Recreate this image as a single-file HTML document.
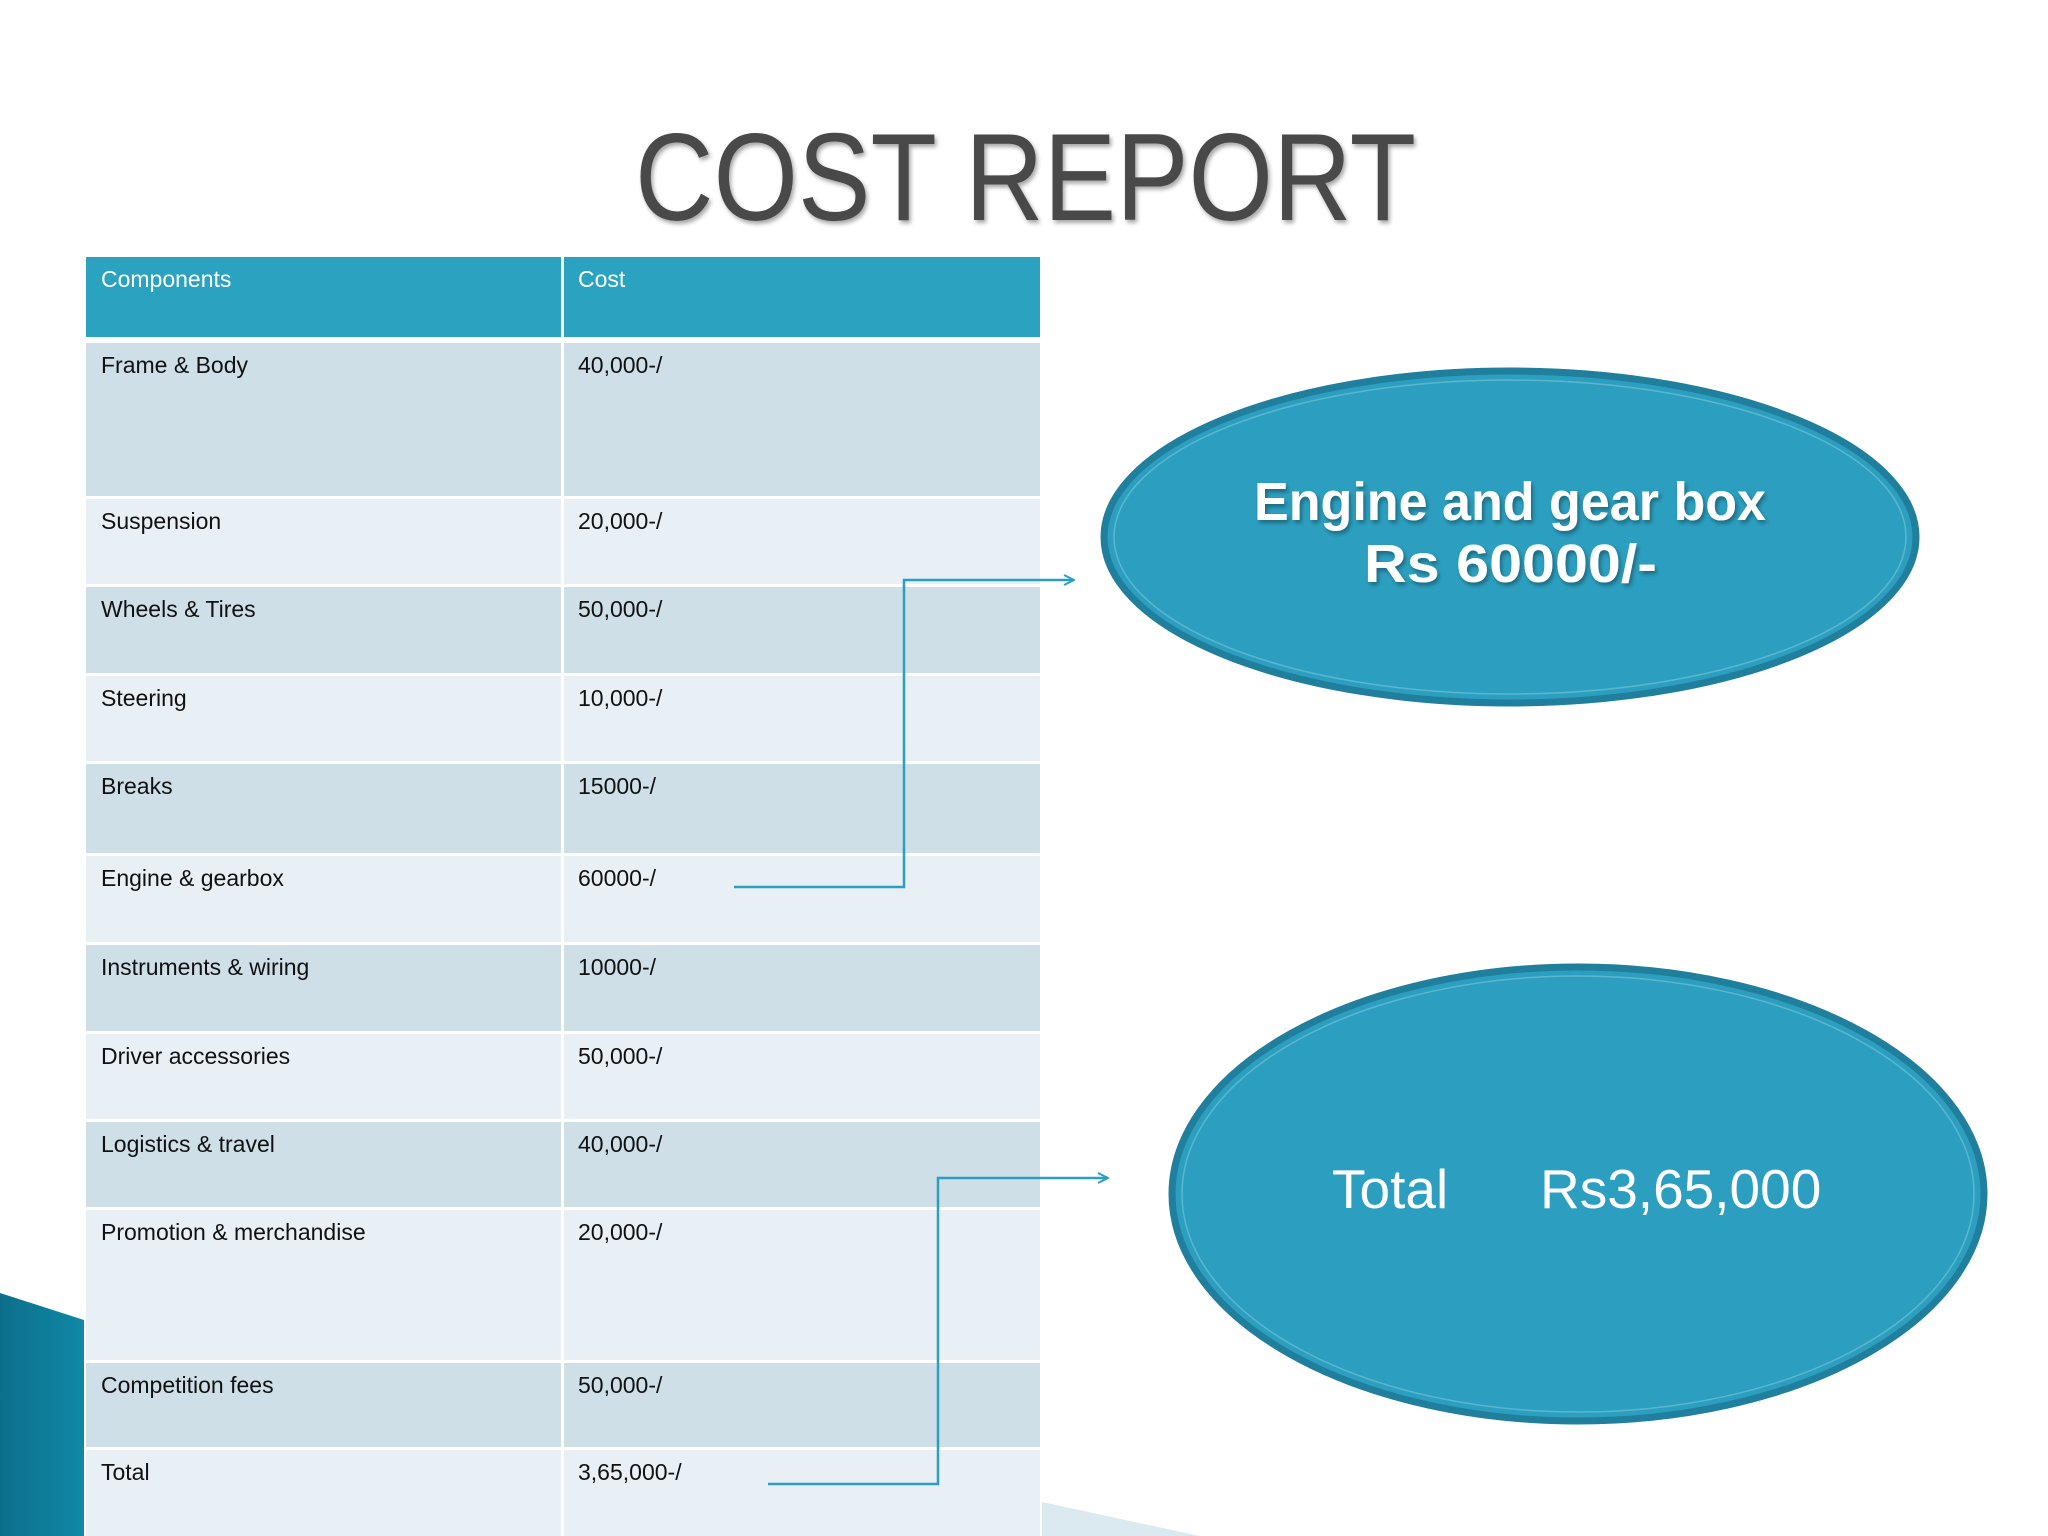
<!DOCTYPE html>
<html><head><meta charset="utf-8"><style>
html,body{margin:0;padding:0;background:#fff;}
body{width:2048px;height:1536px;position:relative;overflow:hidden;font-family:"Liberation Sans",sans-serif;}
svg{position:absolute;left:0;top:0;}
</style></head><body>
<svg id="s" width="2048" height="1536" viewBox="0 0 2048 1536">
  <defs>
    <marker id="arr" viewBox="0 0 12 12" refX="11" refY="6" markerWidth="12" markerHeight="12" markerUnits="userSpaceOnUse" orient="auto">
      <path d="M1,1 L11,6 L1,11" fill="none" stroke="#2c9fc0" stroke-width="2"/>
    </marker>
    <linearGradient id="lg" x1="0" y1="0" x2="1" y2="0">
      <stop offset="0" stop-color="#0d6f8c"/><stop offset="1" stop-color="#0f88a6"/>
    </linearGradient>
    <filter id="sh"><feDropShadow dx="2" dy="3" stdDeviation="2" flood-color="#000" flood-opacity="0.35"/></filter>
  </defs>
  <polygon points="0,1293 84,1320 84,1536 0,1536" fill="url(#lg)"/>
  <polygon points="1042,1502 1200,1536 1042,1536" fill="#dbe9f1"/>
  <text x="635" y="220" textLength="781" lengthAdjust="spacingAndGlyphs" font-size="124" fill="#4a4a4a" filter="url(#sh)">COST REPORT</text>
  <g id="table"></g>
  <polyline points="734,887 904,887 904,580 1074,580" fill="none" stroke="#2c9fc0" stroke-width="2.5" marker-end="url(#arr)"/>
  <polyline points="768,1484 938,1484 938,1178 1108,1178" fill="none" stroke="#2c9fc0" stroke-width="2.5" marker-end="url(#arr)"/>
  <g>
    <ellipse cx="1510" cy="537" rx="406" ry="166" fill="#2c9fc0" stroke="#1f7f9c" stroke-width="7"/>
    <ellipse cx="1510" cy="537" rx="396" ry="157" fill="none" stroke="#5ab6cf" stroke-width="1.5"/>
    <text x="1254" y="520" textLength="512" lengthAdjust="spacingAndGlyphs" font-size="54" font-weight="bold" fill="#fff" filter="url(#sh)">Engine and gear box</text>
    <text x="1364" y="582" textLength="293" lengthAdjust="spacingAndGlyphs" font-size="54" font-weight="bold" fill="#fff" filter="url(#sh)">Rs 60000/-</text>
  </g>
  <g>
    <ellipse cx="1578" cy="1194" rx="406" ry="227" fill="#2c9fc0" stroke="#1f7f9c" stroke-width="7"/>
    <ellipse cx="1578" cy="1194" rx="396" ry="218" fill="none" stroke="#5ab6cf" stroke-width="1.5"/>
    <text x="1332" y="1208" font-size="55" fill="#fff">Total</text>
    <text x="1540" y="1208" font-size="55" fill="#fff">Rs3,65,000</text>
  </g>
</svg>
<script>
const components=["Frame & Body","Suspension","Wheels & Tires","Steering","Breaks","Engine & gearbox","Instruments & wiring","Driver accessories","Logistics & travel","Promotion & merchandise","Competition fees","Total"];
const costs=["40,000-/","20,000-/","50,000-/","10,000-/","15000-/","60000-/","10000-/","50,000-/","40,000-/","20,000-/","50,000-/","3,65,000-/"];
const headers=["Components","Cost"];
const NS="http://www.w3.org/2000/svg";
const g=document.getElementById('table');
const X0=86,XS=563,X1=1040;
const bounds=[257,340,496,584,673,761,853,942,1031,1119,1207,1360,1447,1536];
function r(x,y,w,h,f,name){const e=document.createElementNS(NS,'rect');e.setAttribute('x',x);e.setAttribute('y',y);e.setAttribute('width',w);e.setAttribute('height',h);e.setAttribute('fill',f);


g.appendChild(e);}
function t(x,y,s,f,name){const e=document.createElementNS(NS,'text');e.setAttribute('x',x);e.setAttribute('y',y);e.setAttribute('font-size','23');e.setAttribute('fill',f);e.textContent=s;


g.appendChild(e);}
r(X0,bounds[0],XS-X0-2,bounds[1]-bounds[0]-3,'#2ca2c1','header-cell');
r(XS+1,bounds[0],X1-XS-1,bounds[1]-bounds[0]-3,'#2ca2c1','header-cell');
t(X0+15,bounds[0]+30,headers[0],'#fff','header-components');
t(XS+15,bounds[0]+30,headers[1],'#fff','header-cost');
for(let i=0;i<components.length;i++){
  const y=bounds[i+1]+3,h=bounds[i+2]-bounds[i+1]-3;
  const f=i%2===0?'#cedfe8':'#e8eff5';
  r(X0,y,XS-X0-2,h,f,'row-cell');
  r(XS+1,y,X1-XS-1,h,f,'row-cell');
  t(X0+15,y+30,components[i],'#111','component-label');
  t(XS+15,y+30,costs[i],'#111','cost-value');
}
</script>
</body></html>
